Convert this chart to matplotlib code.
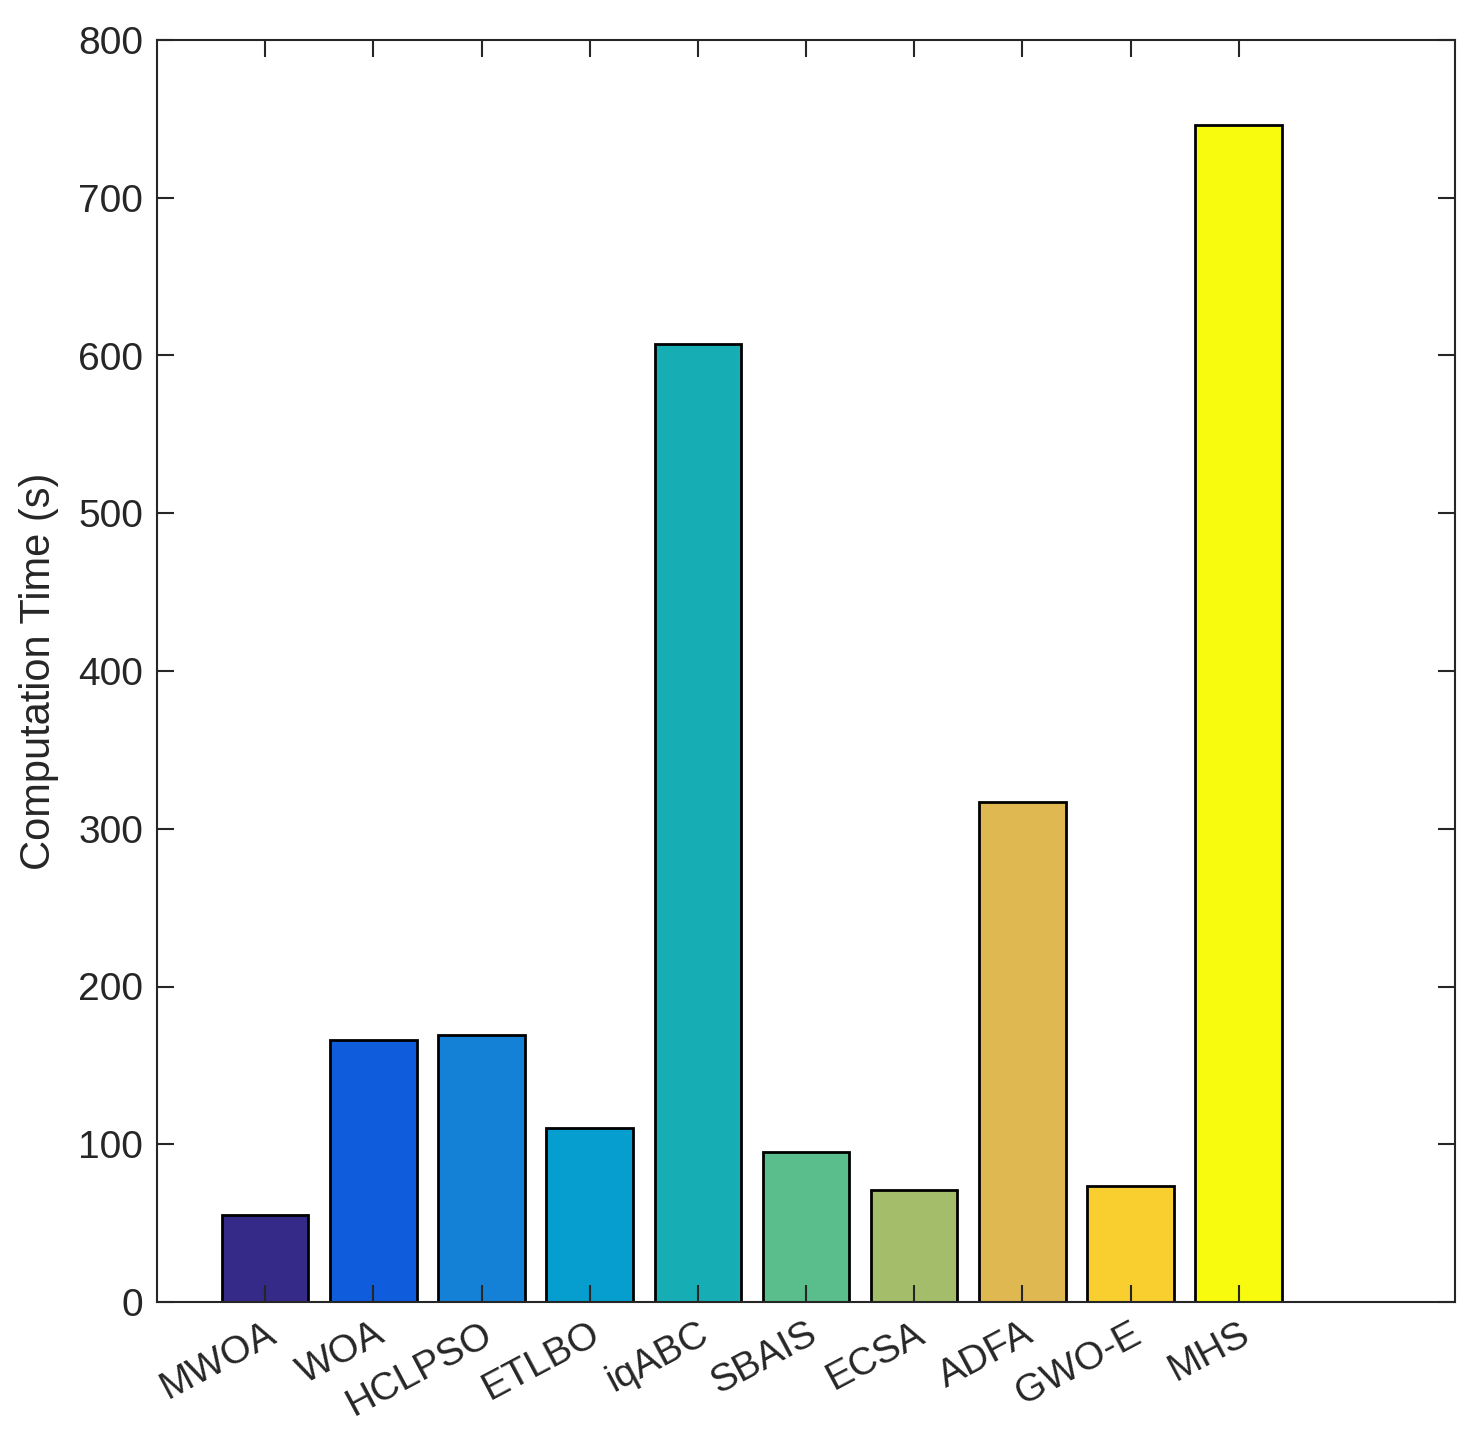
import matplotlib.pyplot as plt

plt.rcParams['font.family'] = ['Liberation Sans', 'DejaVu Sans']

algorithms = ['MWOA', 'WOA', 'HCLPSO', 'ETLBO', 'iqABC', 'SBAIS', 'ECSA', 'ADFA', 'GWO-E', 'MHS']
times = [55, 166, 169, 110, 607, 95, 71, 317, 73.5, 746]
colors = ['#352a87', '#0f5cdd', '#1481d6', '#069dcf', '#17adb5',
          '#5abd8c', '#a4bd6a', '#e0b852', '#f8cf2f', '#f9fb0e']

fig = plt.figure(figsize=(14.84, 14.51), dpi=100)
ax = fig.add_axes([157 / 1484, 1 - 1302 / 1451, 1298 / 1484, 1262 / 1451])

pos = list(range(1, len(algorithms) + 1))
ax.bar(pos, times, width=0.8, color=colors, edgecolor='black', linewidth=2)

ax.set_xlim(0, 12)
ax.set_ylim(0, 800)
ax.set_xticks(pos)
ax.set_xticklabels(algorithms, rotation=28, ha='right', rotation_mode='anchor')
ax.set_yticks(range(0, 801, 100))
ax.tick_params(direction='in', length=12, width=1.5, labelsize=28, colors='#262626',
               top=True, right=True, pad=10)
for s in ax.spines.values():
    s.set_linewidth(1.5)
    s.set_color('#262626')
ax.set_ylabel('Computation Time (s)', fontsize=30, color='#262626', labelpad=14)

fig.savefig('out.png', dpi=100)
